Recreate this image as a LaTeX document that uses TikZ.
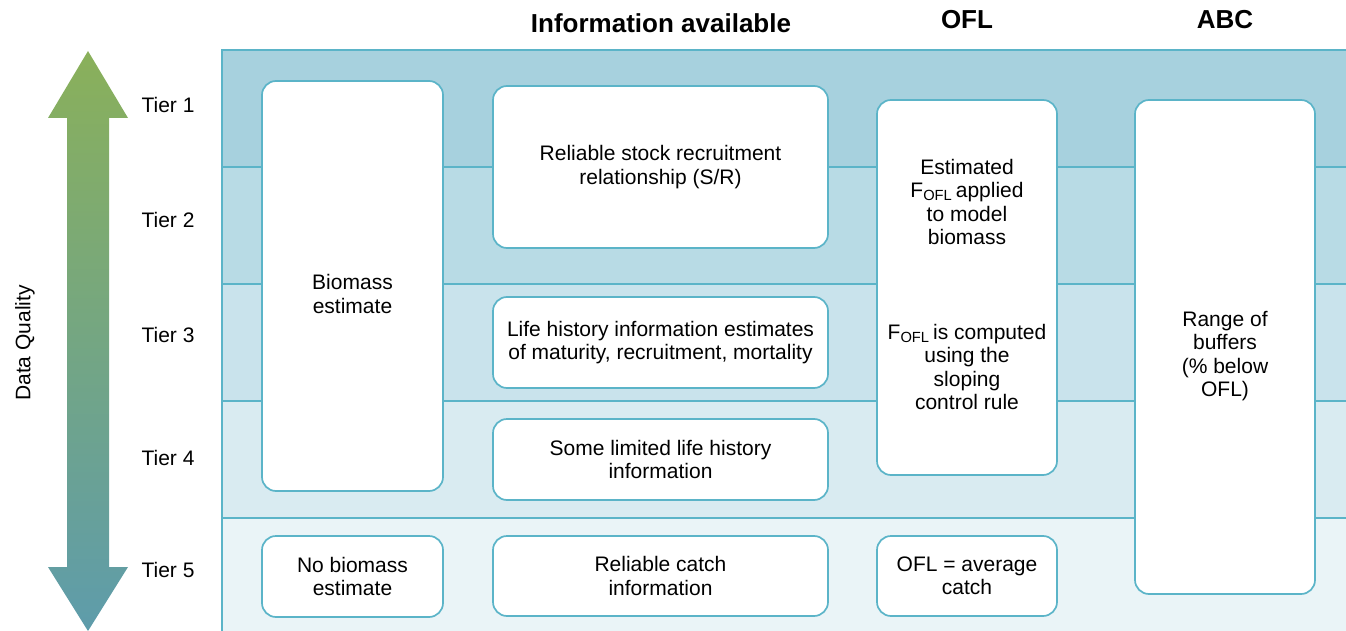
\documentclass[tikz,border=0pt]{standalone}
\usepackage{fontspec}
\setmainfont{Liberation Sans}
\definecolor{bordc}{HTML}{5BB4C8}
\definecolor{tA}{HTML}{A7D1DE}
\definecolor{tB}{HTML}{B8DBE5}
\definecolor{tC}{HTML}{C9E3EC}
\definecolor{tD}{HTML}{D9EBF1}
\definecolor{tE}{HTML}{EAF4F7}
\definecolor{arrG}{HTML}{8AB05A}
\definecolor{arrT}{HTML}{5E9CAB}
\begin{document}
\begin{tikzpicture}[x=1pt,y=-1pt,
  txt/.style={font=\fontsize{21}{23.5}\selectfont, align=center, text=black},
  box/.style={txt, draw=bordc, fill=white, line width=1.7pt, rounded corners=14pt, inner sep=0pt},
  hdr/.style={font=\fontsize{26}{28}\selectfont\bfseries},
  tier/.style={txt}
]
\useasboundingbox (0,0) rectangle (1346,631);
% bands
\fill[tA] (222,50) rectangle (1346,167);
\fill[tB] (222,167) rectangle (1346,284);
\fill[tC] (222,284) rectangle (1346,401);
\fill[tD] (222,401) rectangle (1346,518);
\fill[tE] (222,518) rectangle (1346,631);
\draw[bordc, line width=1.8pt] (1346,50) -- (222,50) -- (222,631);
\foreach \yy in {167,284,401,518} \draw[bordc, line width=1.8pt] (222,\yy) -- (1346,\yy);
% arrow
\shade[top color=arrG, bottom color=arrT]
  (88,51) -- (128,118) -- (109,118) -- (109,567) -- (128,567) -- (88,631)
  -- (48,567) -- (67,567) -- (67,118) -- (48,118) -- cycle;
\node[txt, rotate=90] (dq) at (25,343) {Data Quality};
% tier labels
\node[tier] (t1) at (168,105) {Tier 1};
\node[tier] (t2) at (168,220) {Tier 2};
\node[tier] (t3) at (168,335) {Tier 3};
\node[tier] (t4) at (168,458) {Tier 4};
\node[tier] (t5) at (168,570) {Tier 5};
% headers
\node[hdr] (h1) at (661,23) {Information available};
\node[hdr] (h2) at (967,20) {OFL};
\node[hdr] (h3) at (1225,20) {ABC};
% boxes
\node[box, minimum width=181pt, minimum height=410pt] (bio) at (352.5,286) {};
\node[txt] (biot) at (352.5,294) {Biomass\\estimate};
\node[box, minimum width=181pt, minimum height=81pt] (nobio) at (352.5,576.5) {No biomass\\estimate};
\node[box, minimum width=335pt, minimum height=162pt] (sr) at (660.5,167) {Reliable stock recruitment\\relationship (S/R)};
\node[box, minimum width=335pt, minimum height=91pt] (lh) at (660.5,342.5) {Life history information estimates\\of maturity, recruitment, mortality};
\node[box, minimum width=335pt, minimum height=81pt] (sl) at (660.5,459.5) {Some limited life history\\information};
\node[box, minimum width=335pt, minimum height=80pt] (rc) at (660.5,576) {Reliable catch\\information};
\node[box, minimum width=180pt, minimum height=375pt] (ofl) at (967,287.5) {};
\node[txt] (ofla) at (967,202) {Estimated\\F\textsubscript{OFL}\,applied\\to model\\biomass};
\node[txt] (oflb) at (967,367) {F\textsubscript{OFL}\,is computed\\using the\\sloping\\control rule};
\node[box, minimum width=180pt, minimum height=80pt] (avg) at (967,576) {OFL = average\\catch};
\node[box, minimum width=180pt, minimum height=494pt] (abc) at (1225,347) {};
\node[txt] (abct) at (1225,356) {Range of\\buffers\\(\% below\\OFL)};
\end{tikzpicture}
\end{document}
